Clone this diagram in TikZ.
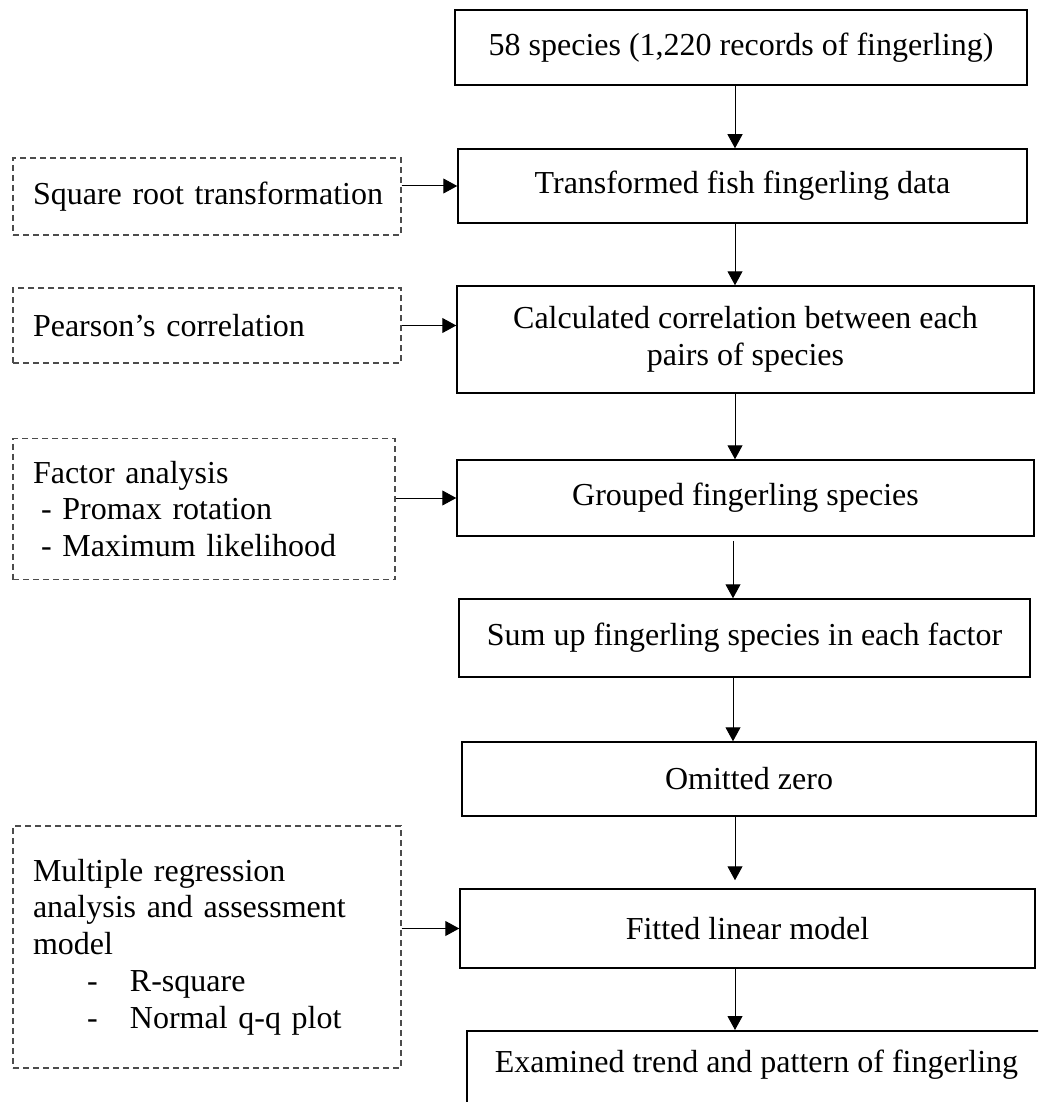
\documentclass[tikz,border=0pt]{standalone}
\usepackage{fontspec}
\setmainfont{Liberation Serif}
\usetikzlibrary{arrows.meta}

\begin{document}
\begin{tikzpicture}[x=1pt, y=-1pt,
        every node/.style={font=\fontsize{32}{36.8}\selectfont},
        mainbox/.style={draw, line width=1.5pt, inner sep=0pt, align=center},
        methodbox/.style={draw=black!70, line width=1.3pt, dash pattern=on 6pt off 4pt,
            inner xsep=20pt, inner ysep=0pt, text width=348pt, align=left},
        arr/.style={line width=1pt, -{Triangle[length=14pt,width=15pt]}}]
    \useasboundingbox (0,0) rectangle (1038,1102);
    \clip (0,0) rectangle (1038,1102);
    \coordinate (axis) at (735,0);

% main steps
\node[mainbox, minimum width=572pt, minimum height=75pt] (records) at (741,47.5) {58 species (1,220 records of fingerling)};
\node[mainbox, minimum width=569pt, minimum height=74pt] (transf) at (742.5,186) {Transformed fish fingerling data};
\node[mainbox, minimum width=577pt, minimum height=107pt] (corr) at (745.5,339.5) {Calculated correlation between each\\pairs of species};
\node[mainbox, minimum width=577pt, minimum height=76pt] (group) at (745.5,498) {Grouped fingerling species};
\node[mainbox, minimum width=571pt, minimum height=78pt] (sumup) at (744.5,638) {Sum up fingerling species in each factor};
\node[mainbox, minimum width=574pt, minimum height=74pt] (omit) at (749,779) {Omitted zero};
\node[mainbox, minimum width=575pt, minimum height=79pt] (fitted) at (747.5,928.5) {Fitted linear model};
\node[mainbox, anchor=north west, inner xsep=28pt, text height=42pt, text depth=80pt] (trend) at (466,1030) {Examined trend and pattern of fingerling};

% methods
\node[methodbox, minimum width=388pt, minimum height=77pt] (sqrt) at (207,196.5) {\mbox{Square root transformation}};
\node[methodbox, minimum width=388pt, minimum height=75pt] (pearson) at (207,325.5) {Pearson’s correlation};
\node[methodbox, minimum width=382pt, minimum height=141pt, text width=342pt] (factor) at (204,509) {Factor analysis\\
    \hspace*{8pt}- Promax rotation\\
    \hspace*{8pt}- Maximum likelihood};
\node[methodbox, minimum width=388pt, minimum height=242pt] (regr) at (207,947) {Multiple regression\\
    analysis and assessment\\
    model\\
    \hspace*{54pt}\makebox[43pt][l]{-}R-square\\
    \hspace*{54pt}\makebox[43pt][l]{-}Normal q-q plot};

\draw[arr] (records.south -| axis) -- (transf.north -| axis);
\draw[arr] (transf.south -| axis) -- (corr.north -| axis);
\draw[arr] (corr.south -| axis) -- (group.north -| axis);
\draw[arr, shorten <=4pt] ([xshift=-2pt]group.south -| axis) -- ([xshift=-2pt]sumup.north -| axis);
\draw[arr] ([xshift=-2pt]sumup.south -| axis) -- ([xshift=-2pt]omit.north -| axis);
\draw[arr, shorten >=8pt] (omit.south -| axis) -- (fitted.north -| axis);
\draw[arr] (fitted.south -| axis) -- (trend.north -| axis);

\draw[arr] (sqrt.east |- transf) -- (transf.west);
\draw[arr] (pearson) -- (pearson -| corr.west);
\draw[arr] (factor.east |- group) -- (group.west);
\draw[arr] (regr.east |- fitted) -- (fitted.west);
\end{tikzpicture}
\end{document}
